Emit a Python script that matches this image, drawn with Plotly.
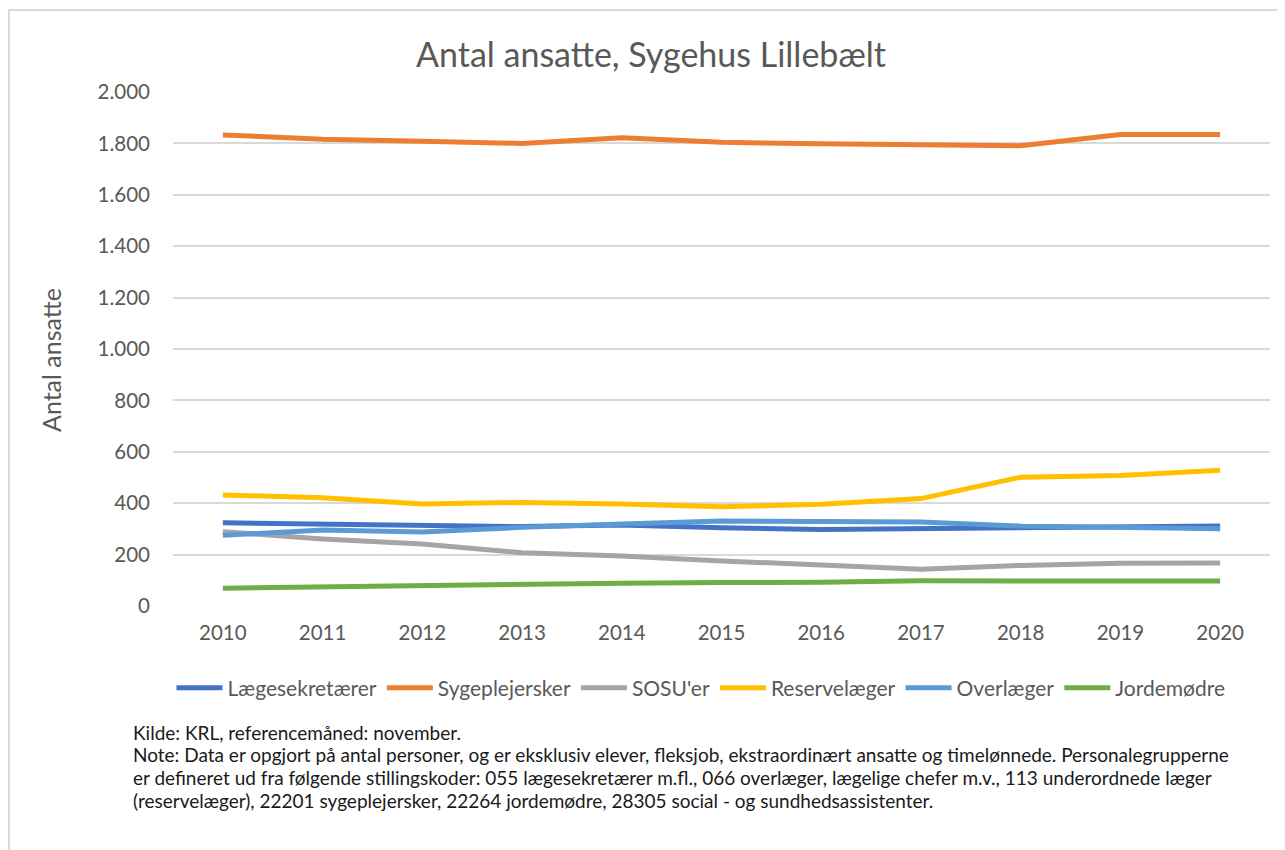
import plotly.graph_objects as go

# Data
years = ['2010', '2011', '2012', '2013', '2014', '2015', '2016', '2017', '2018', '2019', '2020']
laegesekretaerer = [324, 319, 314, 309, 315, 304, 298, 301, 301, 304, 311]
sygeplejersker = [1833, 1816, 1808, 1800, 1822, 1804, 1799, 1795, 1791, 1835, 1835]
sosu = [289, 261, 241, 207, 195, 175, 160, 143, 158, 166, 167]
reservelaeger = [432, 421, 397, 403, 397, 386, 396, 418, 501, 508, 528]
overlaeger = [275, 296, 288, 306, 319, 331, 329, 327, 311, 306, 301]
jordemoedre = [69, 74, 80, 88, 89, 91, 92, 98, 98, 97, 97]

y_ticks = [0, 200, 400, 600, 800, 1000, 1200, 1400, 1600, 1800, 2000]
y_ticktext = ['0', '200', '400', '600', '800', '1.000', '1.200', '1.400', '1.600', '1.800', '2.000']

series = [
    ('Lægesekretærer', laegesekretaerer, '#4472C4'),
    ('Sygeplejersker', sygeplejersker, '#ED7D31'),
    ("SOSU'er", sosu, '#A5A5A5'),
    ('Reservelæger', reservelaeger, '#FFC000'),
    ('Overlæger', overlaeger, '#5B9BD5'),
    ('Jordemødre', jordemoedre, '#70AD47'),
]

notes = [
    'Kilde: KRL, referencemåned: november.',
    'Note: Data er opgjort på antal personer, og er eksklusiv elever, fleksjob, ekstraordinært ansatte og timelønnede. Personalegrupperne',
    'er defineret ud fra følgende stillingskoder: 055 lægesekretærer m.fl., 066 overlæger, lægelige chefer m.v., 113 underordnede læger',
    '(reservelæger), 22201 sygeplejersker, 22264 jordemødre, 28305 social - og sundhedsassistenter.',
]

FONT = 'Lato'
GREY = '#595959'

# the page puts the figure 8px in from the top-left corner, so work in page pixels
OFF = 8
FIG_W, FIG_H = 1285, 850
PLOT_L, PLOT_R, PLOT_T, PLOT_B = 173, 1270, 92, 606   # plot area on the page
L = PLOT_L - OFF
T = PLOT_T - OFF
R = FIG_W - (PLOT_R - OFF)
B = FIG_H - (PLOT_B - OFF)
W = PLOT_R - PLOT_L
H = PLOT_B - PLOT_T


def px_x(px):
    return (px - PLOT_L) / W


def px_y(py):
    return (PLOT_B - py) / H


fig = go.Figure()
for name, vals, color in series:
    fig.add_trace(go.Scatter(
        x=years, y=vals, mode='lines', name=name,
        line=dict(color=color, width=5),
    ))

fig.update_layout(
    width=FIG_W, height=FIG_H,
    margin=dict(l=L, r=R, t=T, b=B),
    paper_bgcolor='white', plot_bgcolor='white',
    font=dict(family=FONT, color=GREY),
    title=dict(text='Antal ansatte, Sygehus Lillebælt', xref='paper', x=px_x(651), xanchor='center',
               yref='container', y=1 - (55 - OFF) / FIG_H, yanchor='middle',
               font=dict(size=34, color=GREY)),
    xaxis=dict(type='category', range=[-0.5, 10.5], showgrid=False, showline=False,
               zeroline=False, tickfont=dict(size=20.5, color=GREY), ticklabelstandoff=12),
    yaxis=dict(range=[0, 2000], tickvals=y_ticks, ticktext=y_ticktext,
               showgrid=True, gridcolor='#D9D9D9', gridwidth=1.5, zeroline=False,
               showline=False, tickfont=dict(size=20.5, color=GREY), ticklabelstandoff=22),
    legend=dict(orientation='h', x=px_x(701), xanchor='center', y=px_y(688), yanchor='middle',
                font=dict(size=21, color=GREY), itemwidth=46, bgcolor='rgba(0,0,0,0)'),
    showlegend=True,
)

# y-axis title
fig.add_annotation(text='Antal ansatte', xref='paper', yref='paper', x=px_x(51), y=px_y(360),
                   textangle=-90, showarrow=False, font=dict(size=25, color=GREY),
                   xanchor='center', yanchor='middle')

# source / note lines
for i, line in enumerate(notes):
    fig.add_annotation(text=line, xref='paper', yref='paper', x=px_x(131), y=px_y(732 + i * 22.7),
                       xanchor='left', yanchor='middle', showarrow=False, align='left',
                       font=dict(size=19, color='#1A1A1A'))

# chart border (Excel-style frame)
fig.add_shape(type='rect', xref='paper', yref='paper',
              x0=px_x(9), x1=px_x(1320), y0=px_y(10), y1=px_y(880),
              line=dict(color='#D9D9D9', width=2), fillcolor='rgba(0,0,0,0)', layer='below')

fig.write_html('out.html')
